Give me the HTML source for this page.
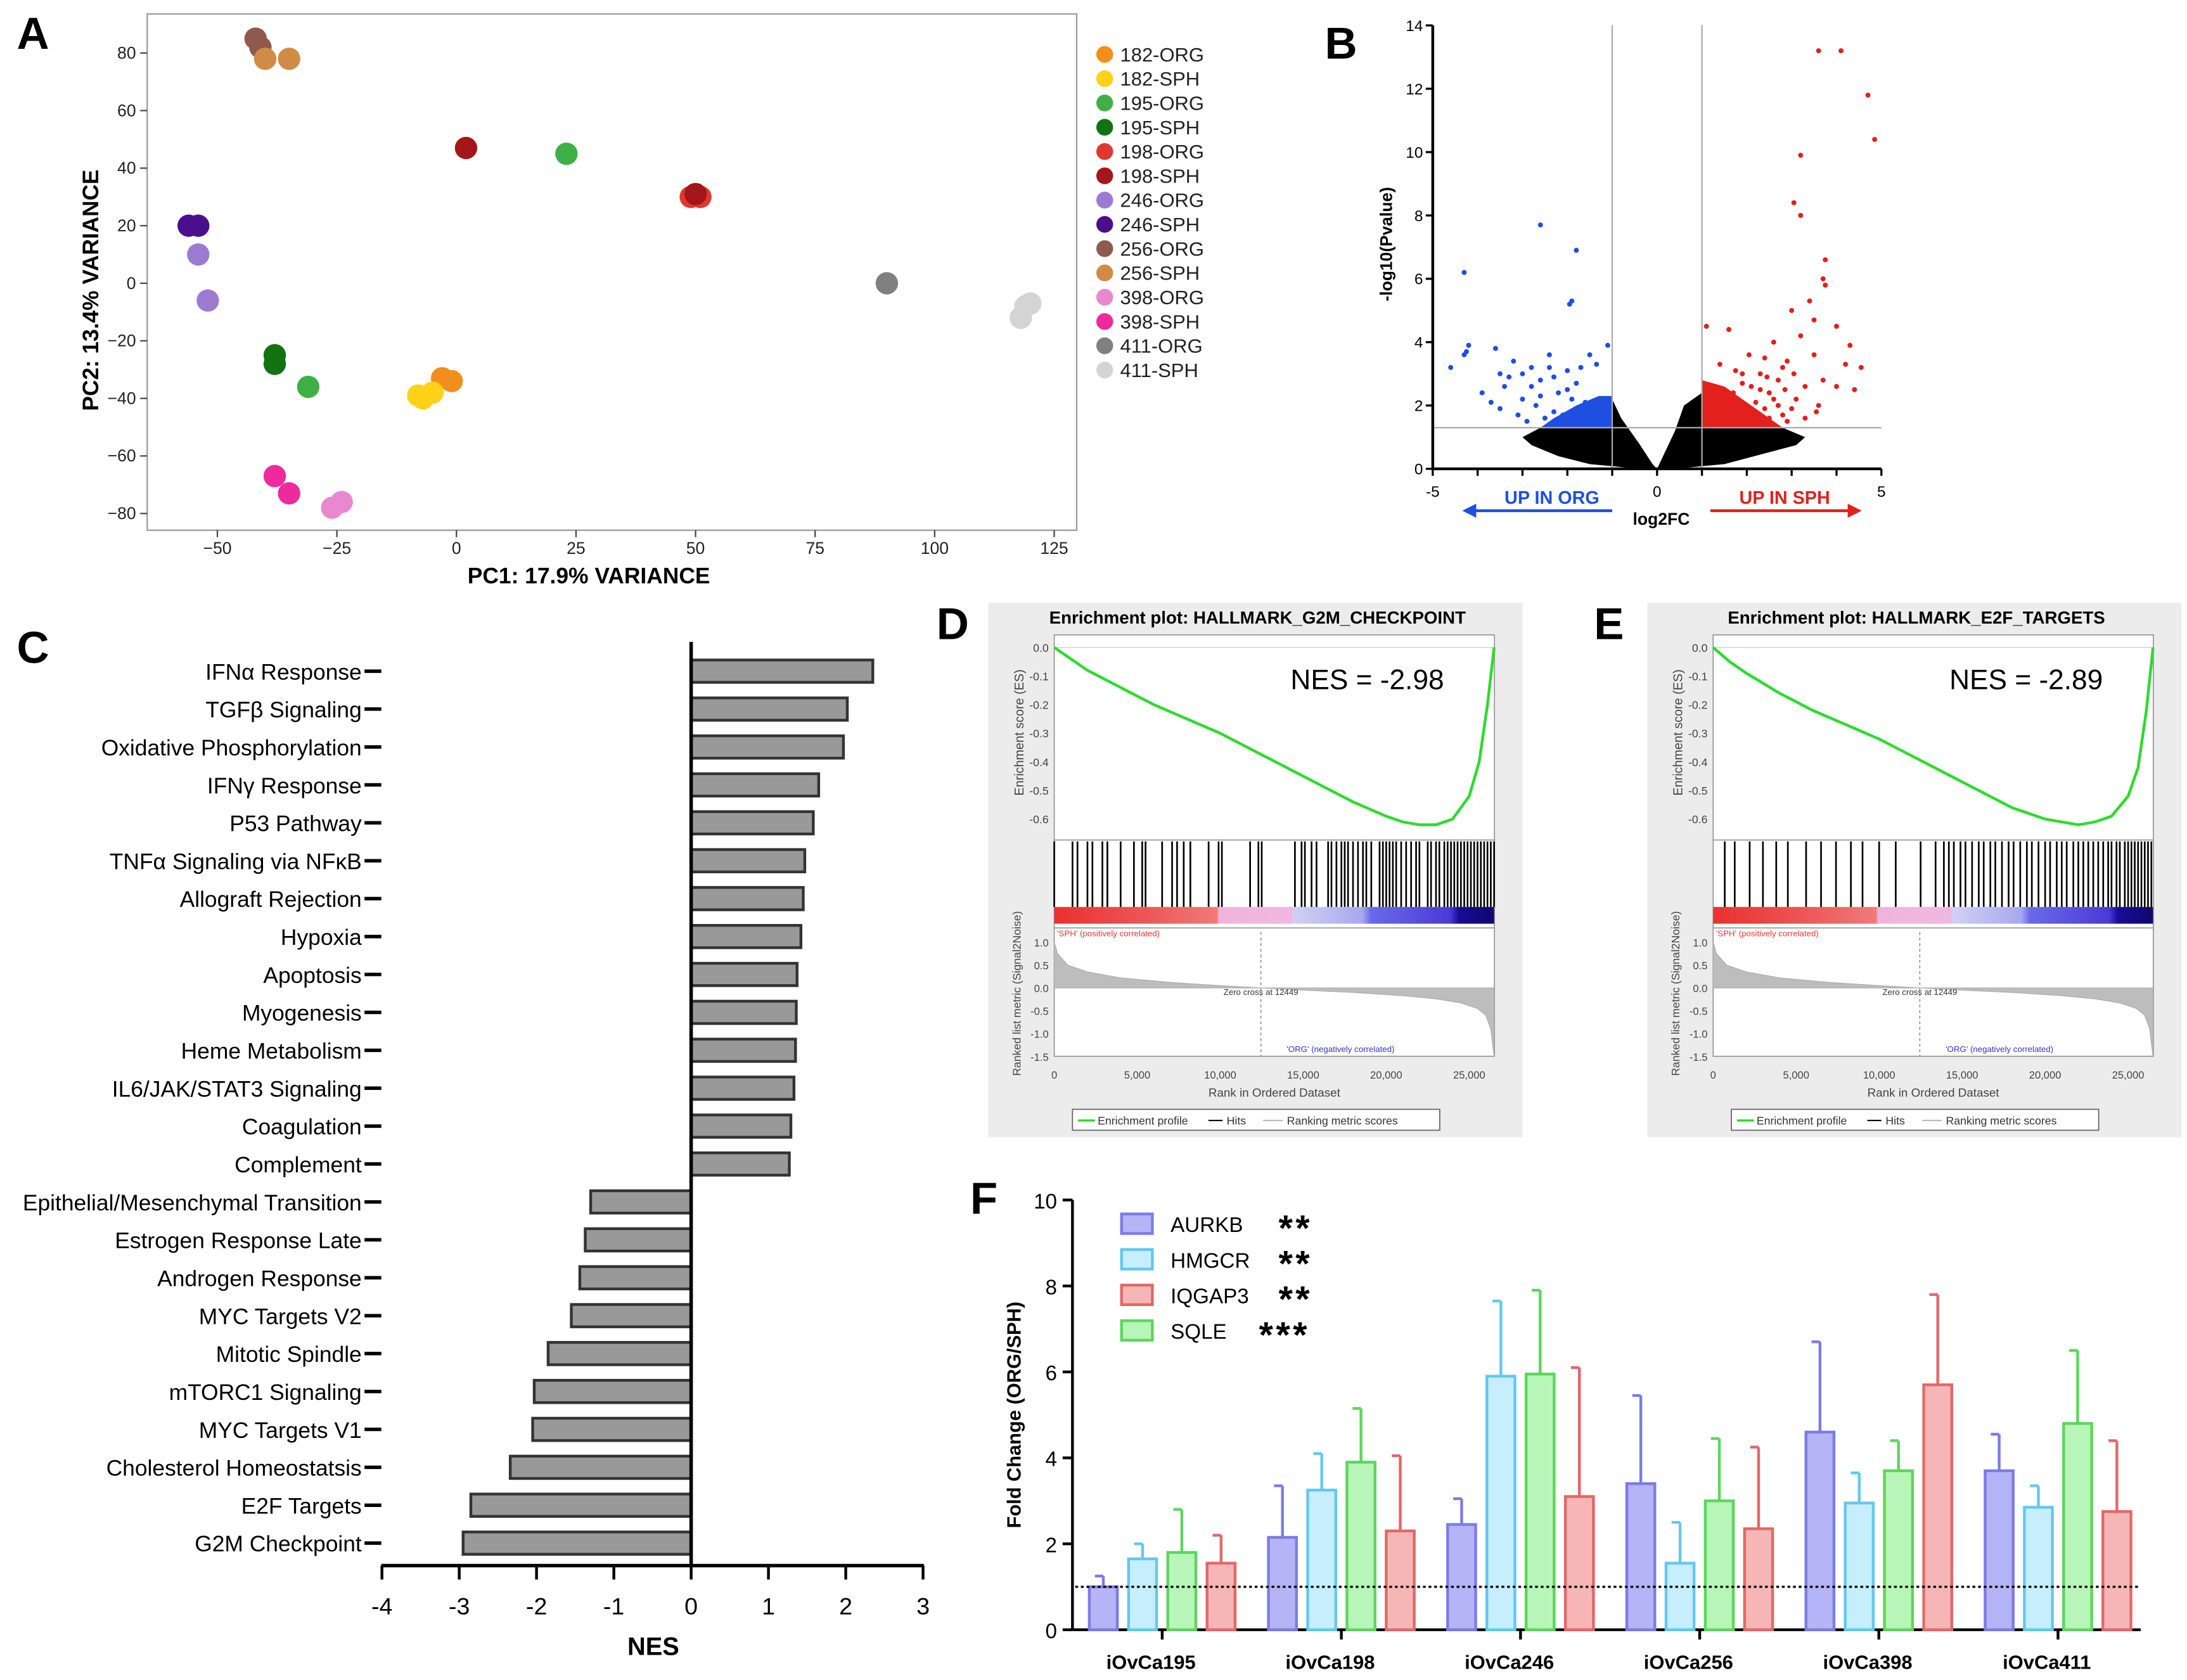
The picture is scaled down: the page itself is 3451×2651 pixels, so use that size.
<!DOCTYPE html>
<html><head><meta charset="utf-8"><style>
html,body{margin:0;padding:0;background:#fff}
svg{display:block;font-family:"Liberation Sans",Arial,sans-serif}
</style></head><body>
<svg id="fig" xmlns="http://www.w3.org/2000/svg" width="3451" height="2651" viewBox="0 0 1560 1204" preserveAspectRatio="none">
<rect width="1560" height="1204" fill="#fff"/>
<g id="gA"></g>
<g id="gB"></g>
<g id="gC"></g>
<g id="gD"></g>
<g id="gE"></g>
<g id="gF"></g>
</svg>
<script>
// ---------- Panel A data ----------
const pcaGroups=["182-ORG","182-SPH","195-ORG","195-SPH","198-ORG","198-SPH","246-ORG","246-SPH","256-ORG","256-SPH","398-ORG","398-SPH","411-ORG","411-SPH"];
const pcaColors=["#f28e1c","#ffd21a","#3fb045","#127312","#e0382e","#a3161a","#9c7ad2","#4a0f8c","#8f5a4e","#d08b45","#ea88cf","#ee2a9c","#808080","#d4d4d4"];
const pcaX=[[-3,-1],[-8,-5,-7],[23,-31],[-38,-38],[49,51],[2,50],[-54,-52],[-56,-54],[-42,-41],[-40,-35],[-26,-24],[-38,-35],[90],[118,120,119]];
const pcaY=[[-33,-34],[-39,-38,-40],[45,-36],[-25,-28],[30,30],[47,31],[10,-6],[20,20],[85,82],[78,78],[-78,-76],[-67,-73],[0],[-12,-7,-8]];
const pcaXTicks=[-50,-25,0,25,50,75,100,125];
const pcaYTicks=[-80,-60,-40,-20,0,20,40,60,80];
// ---------- Panel B data ----------
const blueX=[-4.6,-4.3,-4.25,-4.2,-4.3,-2.6,-1.8,-1.95,-1.9,-1.1,-3.6,-3.5,-3.4,-3.2,-3.0,-2.8,-2.6,-2.4,-2.2,-2.0,-1.8,-1.7,-3.5,-3.1,-2.7,-2.3,-1.9,-3.9,-2.9,-2.5,-2.1,-1.8,-3.3,-2.6,-2.0,-1.6,-2.4,-2.2,-1.9,-1.7,-3.7,-2.8,-3.0,-2.3,-1.35,-1.5];
const blueY=[3.2,3.6,3.7,3.9,6.2,7.7,6.9,5.2,5.3,3.9,3.8,3.0,2.6,3.4,2.2,3.2,2.8,3.6,2.4,3.1,2.7,3.2,1.9,1.7,2.0,1.8,2.2,2.4,1.5,1.6,1.7,1.9,2.9,2.3,2.5,2.1,3.2,1.5,1.6,1.8,2.1,2.6,3.0,2.9,3.3,3.6];
const redX=[3.6,4.1,4.7,4.85,3.2,3.05,3.2,3.75,3.7,3.75,3.5,3.4,4.0,1.1,1.6,2.4,2.6,2.8,3.0,3.2,3.5,3.7,2.1,2.3,2.5,2.7,2.9,3.1,3.3,1.8,1.9,2.0,2.2,2.4,2.6,2.8,3.0,1.7,1.9,2.1,2.5,2.9,3.6,4.2,4.4,1.4,2.3,2.7,3.3,1.75,2.05,2.45,2.85,3.05,3.55,1.65,4.3,4.55,4.0];
const redY=[13.2,13.2,11.8,10.4,9.9,8.4,8.0,6.6,6.0,5.8,4.7,5.3,2.6,4.5,4.4,3.5,4.0,3.2,5.0,4.2,3.6,2.8,2.6,3.0,2.4,2.8,3.4,2.2,2.6,1.6,3.0,1.8,2.1,1.9,2.2,1.7,1.9,2.4,2.7,1.5,1.6,1.5,2.0,3.3,2.5,3.3,2.5,2.0,1.6,3.1,3.6,2.9,2.5,3.0,1.8,1.5,3.9,3.2,4.5];
const volcXTicks=[-5,0,5];
const volcYTicks=[0,2,4,6,8,10,12,14];
// ---------- Panel C data ----------
const pathways=["IFNα Response","TGFβ Signaling","Oxidative Phosphorylation","IFNγ Response","P53 Pathway","TNFα Signaling via NFκB","Allograft Rejection","Hypoxia","Apoptosis","Myogenesis","Heme Metabolism","IL6/JAK/STAT3 Signaling","Coagulation","Complement","Epithelial/Mesenchymal Transition","Estrogen Response Late","Androgen Response","MYC Targets V2","Mitotic Spindle","mTORC1 Signaling","MYC Targets V1","Cholesterol Homeostatsis","E2F Targets","G2M Checkpoint"];
const nesValues=[2.35,2.02,1.97,1.65,1.58,1.47,1.45,1.42,1.37,1.36,1.35,1.33,1.29,1.27,-1.3,-1.37,-1.44,-1.55,-1.85,-2.03,-2.05,-2.34,-2.85,-2.95];
const nesTicks=[-4,-3,-2,-1,0,1,2,3];
// ---------- Panels D/E data ----------
const esRanks=[0,1000,2000,4000,6000,8000,10000,12000,14000,16000,18000,20000,21000,22000,23000,24000,25000,25600,26100,26500];
const esG2M=[0,-0.04,-0.08,-0.14,-0.2,-0.25,-0.3,-0.36,-0.42,-0.48,-0.54,-0.59,-0.61,-0.62,-0.62,-0.6,-0.52,-0.4,-0.2,0];
const esE2F=[0,-0.05,-0.09,-0.16,-0.22,-0.27,-0.32,-0.38,-0.44,-0.5,-0.56,-0.6,-0.61,-0.62,-0.61,-0.59,-0.52,-0.42,-0.22,0];
const hitsG2M=[0,1100,1400,2000,2300,2900,3200,4000,4800,5300,5500,6500,7100,7400,7800,8200,9300,9900,10100,11800,12300,12500,14500,14900,15100,15500,15800,16500,16700,17000,17300,17500,17700,18000,18300,18600,18800,19100,19600,19800,20000,20200,20400,20600,20900,21200,21500,21800,22000,22500,22700,23000,23200,23500,23700,23900,24100,24300,24500,24700,24900,25100,25300,25500,25700,25900,26100,26300,26500];
const hitsE2F=[700,1300,2200,3000,3800,4500,5600,6500,7400,8300,9000,10000,11000,12500,13400,13900,14200,14500,14900,15200,15600,16000,16300,16700,17000,17400,17800,18100,18500,18900,19200,19600,20000,20300,20700,21000,21300,21700,22000,22300,22600,22900,23200,23500,23800,24000,24300,24500,24800,25000,25200,25400,25600,25800,26000,26200,26400];
const metricRanks=[0,200,800,2000,4000,7000,10000,12449,15000,18000,21000,23000,24500,25500,26000,26300,26500];
const metricVals=[1.0,0.75,0.5,0.35,0.22,0.12,0.05,0,-0.05,-0.1,-0.17,-0.24,-0.33,-0.45,-0.6,-0.9,-1.5];
const rankTicks=[0,5000,10000,15000,20000,25000];
const esTicks=[0,-0.1,-0.2,-0.3,-0.4,-0.5,-0.6];
const metricTicks=[1.0,0.5,0.0,-0.5,-1.0,-1.5];
// ---------- Panel F data ----------
const cellLines=["iOvCa195","iOvCa198","iOvCa246","iOvCa256","iOvCa398","iOvCa411"];
const geneNames=["AURKB","HMGCR","SQLE","IQGAP3"];
const meanAURKB=[1.0,2.15,2.45,3.4,4.6,3.7];
const meanHMGCR=[1.65,3.25,5.9,1.55,2.95,2.85];
const meanSQLE=[1.8,3.9,5.95,3.0,3.7,4.8];
const meanIQGAP3=[1.55,2.3,3.1,2.35,5.7,2.75];
const errAURKB=[0.25,1.2,0.6,2.05,2.1,0.85];
const errHMGCR=[0.35,0.85,1.75,0.95,0.7,0.5];
const errSQLE=[1.0,1.25,1.95,1.45,0.7,1.7];
const errIQGAP3=[0.65,1.75,3.0,1.9,2.1,1.65];
const fcTicks=[0,2,4,6,8,10];

const NS="http://www.w3.org/2000/svg";
function mk(p,tag,at,txt){const e=document.createElementNS(NS,tag);for(const k in at)e.setAttribute(k,at[k]);if(txt!==undefined)e.textContent=txt;p.appendChild(e);return e;}
const root=document.getElementById('fig');

[["A",12,35],["B",945,42],["C",12,475],["D",668,458],["E",1137,458],["F",692,870]].forEach(l=>{
 const t=mk(root,'text',{x:l[1],y:l[2],'font-size':32,'font-weight':'bold'},l[0]);
 
 
});

// ---------- A ----------
(function(){
 const g=document.getElementById('gA');
 const sx=v=>325.6+v*3.411, sy=v=>203-v*2.0625;
 const fr=mk(g,'rect',{x:105,y:10,width:663,height:370,fill:'none',stroke:'#999','stroke-width':1});
 
 pcaXTicks.forEach(t=>{mk(g,'line',{x1:sx(t),x2:sx(t),y1:380,y2:385,stroke:'#444'});
  const e=mk(g,'text',{x:sx(t),y:397,'font-size':12,'text-anchor':'middle',fill:'#222'},t>0?t:(t<0?'−'+(-t):'0'));
  });
 pcaYTicks.forEach(t=>{mk(g,'line',{x1:100,x2:105,y1:sy(t),y2:sy(t),stroke:'#444'});
  const e=mk(g,'text',{x:97,y:sy(t)+4,'font-size':12,'text-anchor':'end',fill:'#222'},t>0?t:(t<0?'−'+(-t):'0'));
  });
 let e=mk(g,'text',{x:420,y:418,'font-size':16,'font-weight':'bold','text-anchor':'middle'},'PC1: 17.9% VARIANCE');
 
 e=mk(g,'text',{x:0,y:0,'font-size':16,'font-weight':'bold','text-anchor':'middle',transform:'translate(70,208) rotate(-90)'},'PC2: 13.4% VARIANCE');
 
 pcaGroups.forEach((gr,i)=>{
  pcaX[i].forEach((x,j)=>{const c=mk(g,'circle',{cx:sx(x),cy:sy(pcaY[i][j]),r:8,fill:pcaColors[i]});
   });
  const y=39+i*17.4;
  const c=mk(g,'circle',{cx:788,cy:y,r:6,fill:pcaColors[i]});
  
  const t=mk(g,'text',{x:799,y:y+5,'font-size':14,fill:'#222'},gr);
  
 });
})();

// ---------- B ----------
(function(){
 const g=document.getElementById('gB');
 const sx=v=>1182+v*32, sy=v=>336-v*22.7;
 const P=a=>a.map(p=>sx(p[0])+','+sy(p[1])).join(' ');
 const leftLobe=[[0,0],[-0.6,0.03],[-1.5,0.15],[-2.2,0.4],[-2.8,0.75],[-3.0,1.0],[-2.6,1.3],[-1.0,1.3],[-1.0,2.2],[-0.8,1.6],[-0.4,0.8],[-0.1,0.15]];
 const rightLobe=[[0,0],[0.6,0.03],[1.5,0.15],[2.3,0.45],[3.1,0.75],[3.3,1.0],[2.8,1.3],[1.0,1.3],[1.0,2.4],[0.6,2.0],[0.4,1.2],[0.1,0.3]];
 let cl=mk(g,'polygon',{points:P(leftLobe),fill:'#000'});
 
 cl=mk(g,'polygon',{points:P(rightLobe),fill:'#000'});
 
 cl=mk(g,'polygon',{points:P([[-2.6,1.3],[-2.3,1.6],[-1.8,2.0],[-1.3,2.3],[-1.0,2.3],[-1.0,1.3]]),fill:'#1f4fe0'});
 
 cl=mk(g,'polygon',{points:P([[1.0,1.3],[1.0,2.8],[1.5,2.6],[2.0,2.1],[2.5,1.6],[2.8,1.3]]),fill:'#e3201c'});
 
 blueX.forEach((x,i)=>{const c=mk(g,'circle',{cx:sx(x),cy:sy(blueY[i]),r:1.8,fill:'#1f4fe0'});
  });
 redX.forEach((x,i)=>{const c=mk(g,'circle',{cx:sx(x),cy:sy(redY[i]),r:1.8,fill:'#e3201c'});
  });
 mk(g,'line',{x1:sx(-1),x2:sx(-1),y1:18,y2:336,stroke:'#aaa'});
 mk(g,'line',{x1:sx(1),x2:sx(1),y1:18,y2:336,stroke:'#aaa'});
 mk(g,'line',{x1:sx(-5),x2:sx(5),y1:sy(1.3),y2:sy(1.3),stroke:'#aaa'});
 mk(g,'line',{x1:sx(-5),x2:sx(-5),y1:sy(14),y2:336,stroke:'#000','stroke-width':2});
 mk(g,'line',{x1:sx(-5),x2:sx(5),y1:336,y2:336,stroke:'#000','stroke-width':2});
 for(let t=-5;t<=5;t++) mk(g,'line',{x1:sx(t),x2:sx(t),y1:336,y2:341,stroke:'#000','stroke-width':1.5});
 volcYTicks.forEach(t=>mk(g,'line',{x1:sx(-5)-5,x2:sx(-5),y1:sy(t),y2:sy(t),stroke:'#000','stroke-width':1.5}));
 volcXTicks.forEach(t=>{const e=mk(g,'text',{x:sx(t),y:356,'font-size':11,'text-anchor':'middle'},t<0?'-'+(-t):t);
  });
 volcYTicks.forEach(t=>{const e=mk(g,'text',{x:1015,y:sy(t)+4,'font-size':11,'text-anchor':'end'},t);
  });
 let e=mk(g,'text',{x:1185,y:376,'font-size':12,'font-weight':'bold','text-anchor':'middle'},'log2FC');
 
 e=mk(g,'text',{x:0,y:0,'font-size':12,'font-weight':'bold','text-anchor':'middle',transform:'translate(993,175) rotate(-90)'},'-log10(Pvalue)');
 
 e=mk(g,'text',{x:1107,y:361,'font-size':13,'font-weight':'bold','text-anchor':'middle',fill:'#1f4fe0'},'UP IN ORG');
 
 mk(g,'line',{x1:1150,x2:1050,y1:366,y2:366,stroke:'#1f4fe0','stroke-width':2});
 mk(g,'path',{d:'M1043 366 L1053 361 L1053 371 Z',fill:'#1f4fe0'});
 e=mk(g,'text',{x:1273,y:361,'font-size':13,'font-weight':'bold','text-anchor':'middle',fill:'#e3201c'},'UP IN SPH');
 
 mk(g,'line',{x1:1220,x2:1320,y1:366,y2:366,stroke:'#e3201c','stroke-width':2});
 mk(g,'path',{d:'M1328 366 L1318 361 L1318 371 Z',fill:'#e3201c'});
})();

// ---------- C ----------
(function(){
 const g=document.getElementById('gC');
 const sx=v=>493+v*55.14, ry=i=>481+i*27.17;
 pathways.forEach((p,i)=>{
  const v=nesValues[i];const x0=Math.min(sx(0),sx(v)),w=Math.abs(sx(v)-sx(0));
  const b=mk(g,'rect',{x:x0,y:ry(i)-8,width:w,height:16,fill:'#999',stroke:'#333','stroke-width':2});
  
  mk(g,'line',{x1:260,x2:272,y1:ry(i),y2:ry(i),stroke:'#000','stroke-width':2.5});
  const t=mk(g,'text',{x:258,y:ry(i)+6,'font-size':16,'text-anchor':'end'},p);
  
 });
 mk(g,'line',{x1:493,x2:493,y1:460,y2:1122,stroke:'#000','stroke-width':2.5});
 mk(g,'line',{x1:272,x2:659,y1:1122,y2:1122,stroke:'#000','stroke-width':2.5});
 nesTicks.forEach(t=>{mk(g,'line',{x1:sx(t),x2:sx(t),y1:1122,y2:1132,stroke:'#000','stroke-width':2});
  const e=mk(g,'text',{x:sx(t),y:1157,'font-size':17,'text-anchor':'middle'},t);
  });
 const e=mk(g,'text',{x:466,y:1186,'font-size':18,'font-weight':'bold','text-anchor':'middle'},'NES');
 
})();

// ---------- D/E ----------
function gsea(gid,ox,title,nes,es,hits,tag){
 const g=document.getElementById(gid);
 const L=ox+47,R=ox+361;
 const rx=r=>L+r*0.01184;
 const esy=v=>464-v*205;
 const my=v=>708-v*32.8;
 let e=mk(g,'rect',{x:ox,y:432,width:381,height:383,fill:'#ececec'});
 
 e=mk(g,'text',{x:ox+192,y:447,'font-size':12.5,'font-weight':'bold','text-anchor':'middle'},title);
 
 mk(g,'rect',{x:L,y:455,width:R-L,height:302,fill:'#fff',stroke:'#999','stroke-width':0.8});
 mk(g,'line',{x1:L,x2:R,y1:602,y2:602,stroke:'#999','stroke-width':0.8});
 mk(g,'line',{x1:L,x2:R,y1:665,y2:665,stroke:'#999','stroke-width':0.8});
 mk(g,'line',{x1:L,x2:R,y1:esy(0),y2:esy(0),stroke:'#ccc','stroke-width':0.6});
 const pts=esRanks.map((r,i)=>rx(r)+','+esy(es[i])).join(' ');
 e=mk(g,'polyline',{points:pts,fill:'none',stroke:'#2bdc2b','stroke-width':2});
 
 e=mk(g,'text',{x:ox+325,y:494,'font-size':20,'text-anchor':'end'},nes);
 
 esTicks.forEach(t=>{const k=mk(g,'text',{x:L-4,y:esy(t)+3,'font-size':8,'text-anchor':'end',fill:'#444'},t===0?'0.0':t.toFixed(1));
  });
 e=mk(g,'text',{x:0,y:0,'font-size':9,'text-anchor':'middle',fill:'#444',transform:`translate(${ox+25},525) rotate(-90)`},'Enrichment score (ES)');
 
 hits.forEach(h=>{const l=mk(g,'line',{x1:rx(h),x2:rx(h),y1:603,y2:650,stroke:'#000','stroke-width':1.2});
  });
 e=mk(g,'rect',{x:L,y:650,width:rx(26500)-L,height:12,fill:'url(#rb)'});
 
 e=mk(g,'text',{x:L+2,y:671,'font-size':6,fill:'#e33'},"'SPH' (positively correlated)");
 
 let d='M'+rx(0)+','+my(0);
 metricRanks.forEach((r,i)=>{d+=' L'+rx(r)+','+my(metricVals[i]);});
 d+=' L'+rx(metricRanks[metricRanks.length-1])+','+my(0)+' Z';
 e=mk(g,'path',{d:d,fill:'#bdbdbd',stroke:'#aaa','stroke-width':0.5});
 
 mk(g,'line',{x1:rx(12449),x2:rx(12449),y1:668,y2:757,stroke:'#888','stroke-width':0.7,'stroke-dasharray':'2,2'});
 e=mk(g,'text',{x:rx(12449),y:713,'font-size':6,'text-anchor':'middle',fill:'#333'},'Zero cross at 12449');
 
 e=mk(g,'text',{x:rx(14000),y:754,'font-size':6,fill:'#33c'},"'ORG' (negatively correlated)");
 
 metricTicks.forEach(t=>{const k=mk(g,'text',{x:L-4,y:my(t)+3,'font-size':7.5,'text-anchor':'end',fill:'#444'},t.toFixed(1));
  });
 e=mk(g,'text',{x:0,y:0,'font-size':8,'text-anchor':'middle',fill:'#444',transform:`translate(${ox+23},712) rotate(-90)`},'Ranked list metric (Signal2Noise)');
 
 rankTicks.forEach(t=>{const k=mk(g,'text',{x:rx(t),y:773,'font-size':7.5,'text-anchor':'middle',fill:'#444'},t.toLocaleString('en-US'));
  });
 e=mk(g,'text',{x:(L+R)/2,y:786,'font-size':8.5,'text-anchor':'middle',fill:'#444'},'Rank in Ordered Dataset');
 
 e=mk(g,'rect',{x:ox+60,y:795,width:262,height:15,fill:'#fff',stroke:'#666','stroke-width':0.8});
 
 mk(g,'line',{x1:ox+64,x2:ox+76,y1:803,y2:803,stroke:'#2bdc2b','stroke-width':1.5});
 mk(g,'text',{x:ox+78,y:806,'font-size':8,fill:'#333'},'Enrichment profile');
 mk(g,'line',{x1:ox+157,x2:ox+167,y1:803,y2:803,stroke:'#000'});
 mk(g,'text',{x:ox+170,y:806,'font-size':8,fill:'#333'},'Hits');
 mk(g,'line',{x1:ox+196,x2:ox+210,y1:803,y2:803,stroke:'#bbb'});
 mk(g,'text',{x:ox+213,y:806,'font-size':8,fill:'#333'},'Ranking metric scores');
}
const defs=mk(root,'defs',{});
const lg=mk(defs,'linearGradient',{id:'rb',x1:0,x2:1,y1:0,y2:0});
[[0,'#ea3030'],[0.2,'#ee5454'],[0.37,'#f07a7a'],[0.375,'#f0b4dc'],[0.54,'#f0b8e0'],[0.545,'#d0d0f4'],[0.7,'#a8a8f0'],[0.72,'#6a6ae8'],[0.9,'#4a3ad8'],[0.92,'#1a0a9a'],[1,'#10086a']].forEach(s=>mk(lg,'stop',{offset:s[0],'stop-color':s[1]}));
gsea('gD',705,'Enrichment plot: HALLMARK_G2M_CHECKPOINT','NES = -2.98',esG2M,hitsG2M,'gsea-g2m');
gsea('gE',1175,'Enrichment plot: HALLMARK_E2F_TARGETS','NES = -2.89',esE2F,hitsE2F,'gsea-e2f');

// ---------- F ----------
(function(){
 const g=document.getElementById('gF');
 const sy=v=>1168-v*30.8;
 const gx=i=>829+i*127.8;
 const fills=["#b4b4f6","#c6eefc","#b8f5b8","#f6b6b6"];
 const strokes=["#7b7be8","#62c8f0","#5cd65c","#e26868"];
 const means=[meanAURKB,meanHMGCR,meanSQLE,meanIQGAP3];
 const errs=[errAURKB,errHMGCR,errSQLE,errIQGAP3];
 mk(g,'line',{x1:765,x2:765,y1:860,y2:1168,stroke:'#000','stroke-width':2});
 mk(g,'line',{x1:765,x2:1527,y1:1168,y2:1168,stroke:'#000','stroke-width':2});
 fcTicks.forEach(t=>{mk(g,'line',{x1:758,x2:765,y1:sy(t),y2:sy(t),stroke:'#000','stroke-width':2});
  const e=mk(g,'text',{x:754,y:sy(t)+6,'font-size':15,'text-anchor':'end'},t);
  });
 let e=mk(g,'text',{x:0,y:0,'font-size':14,'font-weight':'bold','text-anchor':'middle',transform:'translate(728,1014) rotate(-90)'},'Fold Change (ORG/SPH)');
 
 cellLines.forEach((c,i)=>{
  means.forEach((m,k)=>{
   const x=gx(i)-42+k*28;
   const top=sy(m[i]+errs[k][i]);
   mk(g,'line',{x1:x,x2:x,y1:sy(m[i]),y2:top,stroke:strokes[k],'stroke-width':2});
   mk(g,'line',{x1:x-6,x2:x,y1:top,y2:top,stroke:strokes[k],'stroke-width':2});
   const b=mk(g,'rect',{x:x-10,y:sy(m[i]),width:20,height:sy(0)-sy(m[i]),fill:fills[k],stroke:strokes[k],'stroke-width':2});
   
  });
  mk(g,'line',{x1:gx(i),x2:gx(i),y1:1168,y2:1175,stroke:'#000','stroke-width':2});
  const t=mk(g,'text',{x:gx(i)-8,y:1196,'font-size':14,'font-weight':'bold','text-anchor':'middle'},c);
  
 });
 e=mk(g,'line',{x1:767,x2:1527,y1:sy(1),y2:sy(1),stroke:'#000','stroke-width':1.5,'stroke-dasharray':'2,2'});
 
 const stars=['**','**','**','***'];
 const legOrder=[0,1,3,2];
 legOrder.forEach((k,j)=>{
  const y=877+j*25.5;
  const r=mk(g,'rect',{x:800,y:y-7,width:22,height:14,fill:fills[k],stroke:strokes[k],'stroke-width':2});
  
  const t=mk(g,'text',{x:835,y:y+6,'font-size':15},geneNames[k]);
  
  const s=mk(g,'text',{x:j===3?898:912,y:y+12,'font-size':26,'font-weight':'bold','letter-spacing':'2'},stars[j]);
  
 });
})();
</script>
</body></html>
